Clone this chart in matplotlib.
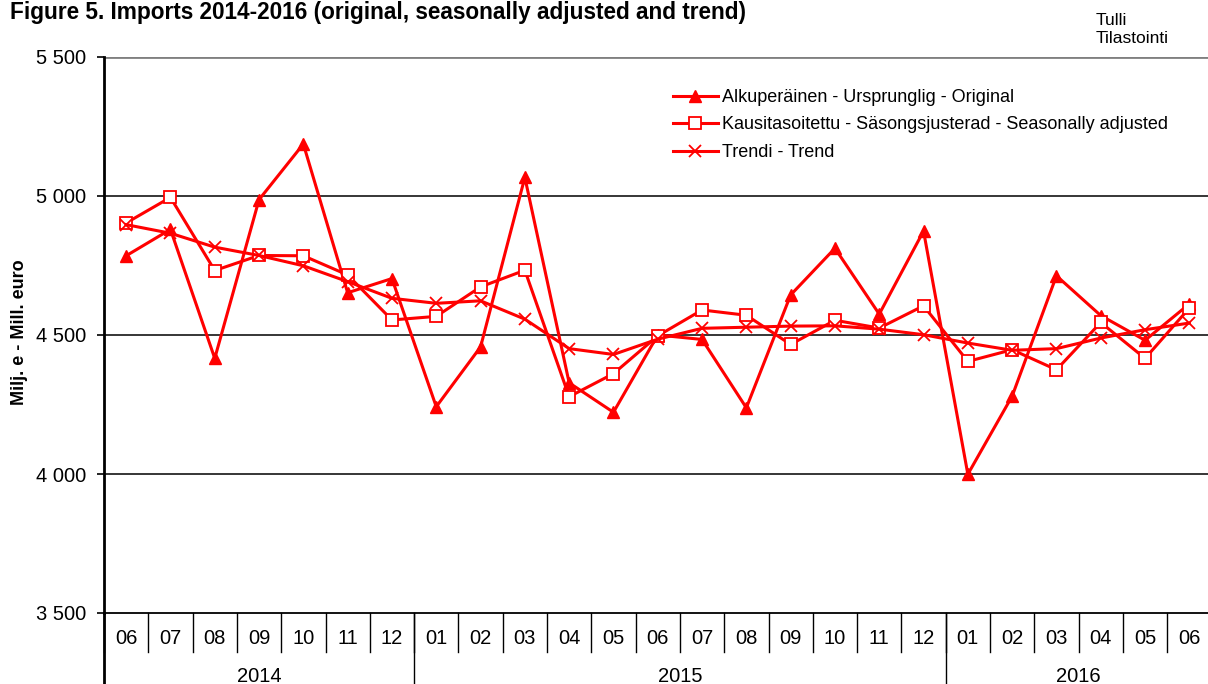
import matplotlib
matplotlib.use("Agg")
import matplotlib.pyplot as plt
import matplotlib.transforms as mtransforms

plt.rcParams["font.family"] = ["Liberation Sans", "DejaVu Sans"]

# monthly imports, Milj. e
MONTHS = ["06", "07", "08", "09", "10", "11", "12",
          "01", "02", "03", "04", "05", "06", "07", "08", "09", "10", "11", "12",
          "01", "02", "03", "04", "05", "06"]
YEARS = ["2014", "2015", "2016"]
YEAR_FIRST = [0, 7, 19]   # index of the first month of each year
YEAR_LAST = [6, 18, 24]

ORIGINAL = [4785, 4880, 4416, 4987, 5187, 4652, 4703, 4242, 4457, 5067, 4328, 4222, 4500,
            4484, 4238, 4644, 4812, 4575, 4874, 3999, 4280, 4713, 4570, 4481, 4612]
SEASONAL = [4903, 4995, 4732, 4786, 4785, 4716, 4554, 4567, 4673, 4733, 4278, 4361, 4497,
            4590, 4571, 4466, 4553, 4525, 4605, 4405, 4447, 4375, 4545, 4416, 4597]
TREND = [4897, 4866, 4816, 4786, 4749, 4692, 4632, 4614, 4623, 4557, 4451, 4430, 4485,
         4524, 4528, 4532, 4533, 4521, 4501, 4471, 4445, 4451, 4489, 4519, 4543]

SERIES_LABELS = ["Alkuperäinen - Ursprunglig - Original",
                 "Kausitasoitettu - Säsongsjusterad - Seasonally adjusted",
                 "Trendi - Trend"]
Y_TICKS = [3500, 4000, 4500, 5000, 5500]

RED = "#FF0000"

W, H = 1208, 684
fig = plt.figure(figsize=(W / 100, H / 100), dpi=100)
ax = fig.add_axes([104 / W, 1 - 613 / H, 1107.5 / W, 556 / H])

x = list(range(len(MONTHS)))
ax.plot(x, ORIGINAL, color=RED, lw=2.2, marker="^", ms=8.5, mfc=RED, mec=RED,
        label=SERIES_LABELS[0], zorder=3)
ax.plot(x, SEASONAL, color=RED, lw=2.2, marker="s", ms=8, mfc="white", mec=RED,
        mew=1.3, label=SERIES_LABELS[1], zorder=4)
ax.plot(x, TREND, color=RED, lw=2.2, marker="x", ms=8.5, mew=1.3, mec=RED,
        label=SERIES_LABELS[2], zorder=5)

ax.set_xlim(-0.5, len(MONTHS) - 0.5)
ax.set_ylim(3500, 5500)
ax.set_yticks(Y_TICKS)
ax.set_yticklabels([f"{v:,}".replace(",", " ") for v in Y_TICKS], fontsize=14.5)
ax.tick_params(axis="y", direction="out", length=5, width=1.2, pad=8)
ax.set_xticks([])

for v in Y_TICKS[1:-1]:
    ax.axhline(v, color="black", lw=1.1, zorder=1)
ax.axhline(Y_TICKS[-1], color="#808080", lw=2.0, zorder=1)

for s in ["top", "right"]:
    ax.spines[s].set_visible(False)
ax.spines["left"].set_linewidth(2.0)
ax.spines["bottom"].set_linewidth(1.3)

# category table under the axis
trans = mtransforms.blended_transform_factory(ax.transData, ax.transAxes)
month_row = -39 / 556
year_row = -72 / 556
for i, m in enumerate(MONTHS):
    ax.text(i, -25 / 556, m, transform=trans, ha="center", va="center", fontsize=14.5)
    ax.plot([i - 0.5, i - 0.5], [0, month_row], transform=trans, color="black",
            lw=1.0, clip_on=False)
ax.plot([len(MONTHS) - 0.5] * 2, [0, month_row], transform=trans, color="black",
        lw=1.0, clip_on=False)
for y_label, a, b in zip(YEARS, YEAR_FIRST, YEAR_LAST):
    ax.text((a + b) / 2, -63 / 556, y_label, transform=trans, ha="center", va="center",
            fontsize=14.5)
    ax.plot([a - 0.5, a - 0.5], [0, year_row], transform=trans, color="black",
            lw=1.0 if a else 2.0, clip_on=False)

fig.text(20 / W, 1 - 332 / H, "Milj. e - Mill. euro", fontsize=13, fontweight="bold",
         rotation=90, ha="center", va="center")

leg = ax.legend(loc="upper left", bbox_to_anchor=(673 / W, 1 - 89 / H),
                bbox_transform=fig.transFigure, frameon=False, fontsize=13,
                handlelength=2.49, handletextpad=0.2, labelspacing=0.58,
                borderpad=0, borderaxespad=0)

fig.text(10 / W, 1 - 19 / H, "Figure 5. Imports 2014-2016 (original, seasonally adjusted and trend)",
         fontsize=16.3, fontweight="bold", ha="left", va="baseline")
fig.text(1096 / W, 1 - 25 / H, "Tulli", fontsize=12.5, ha="left", va="baseline")
fig.text(1096 / W, 1 - 43 / H, "Tilastointi", fontsize=12.5, ha="left", va="baseline")

fig.savefig("out.png", dpi=100)
